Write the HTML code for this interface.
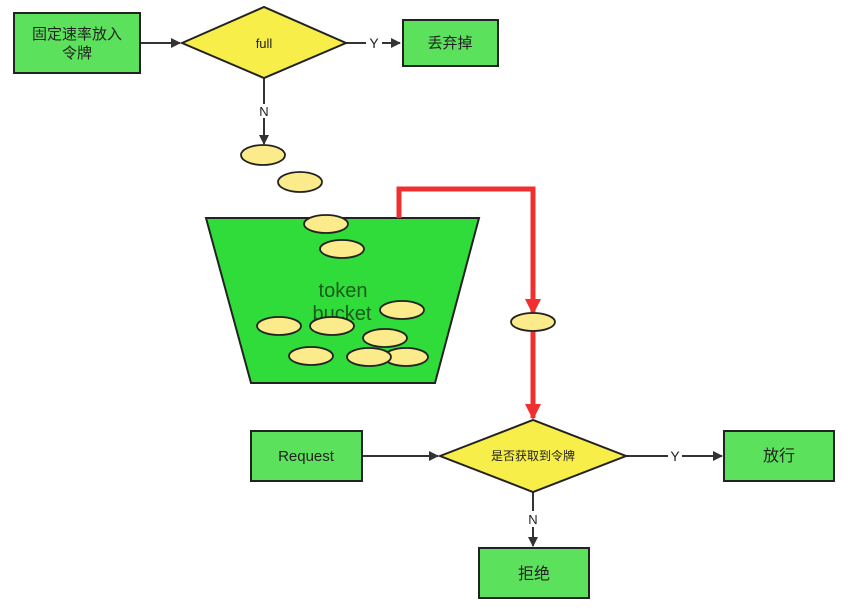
<!DOCTYPE html>
<html><head><meta charset="utf-8"><style>
html,body{margin:0;padding:0;background:#fff;}
svg{display:block;}
text{font-family:"Liberation Sans","Noto Sans CJK SC",sans-serif;}
</style></head><body>
<svg width="859" height="608" viewBox="0 0 859 608" xmlns="http://www.w3.org/2000/svg">
<defs>
<marker id="a" markerWidth="10" markerHeight="10" refX="9" refY="5" orient="auto" markerUnits="userSpaceOnUse"><path d="M0,0 L10,5 L0,10 z" fill="#333"/></marker>
<marker id="r" markerWidth="16" markerHeight="18" refX="14" refY="8" orient="auto" markerUnits="userSpaceOnUse"><path d="M0,0 L16,8 L0,16 z" fill="#f03030"/></marker>
</defs>
<g stroke="#333" stroke-width="2" fill="none">
<line x1="140" y1="43" x2="180" y2="43" marker-end="url(#a)"/>
<line x1="346" y1="43" x2="366" y2="43"/>
<line x1="382" y1="43" x2="400" y2="43" marker-end="url(#a)"/>
<line x1="264" y1="78" x2="264" y2="104"/>
<line x1="264" y1="118" x2="264" y2="144" marker-end="url(#a)"/>
<line x1="362" y1="456" x2="438" y2="456" marker-end="url(#a)"/>
<line x1="626" y1="456" x2="668" y2="456"/>
<line x1="682" y1="456" x2="722" y2="456" marker-end="url(#a)"/>
<line x1="533" y1="492" x2="533" y2="511"/>
<line x1="533" y1="527" x2="533" y2="546" marker-end="url(#a)"/>
</g>
<g stroke="#222" stroke-width="2" fill="#5ce15c">
<rect x="14" y="13" width="126" height="60"/>
<rect x="403" y="20" width="95" height="46"/>
<rect x="251" y="431" width="111" height="50"/>
<rect x="724" y="431" width="110" height="50"/>
<rect x="479" y="548" width="110" height="50"/>
</g>
<g stroke="#222" stroke-width="2" fill="#f7ee4a">
<polygon points="182,43 264,7 346,43 264,78"/>
<polygon points="440,456 533,420 626,456 533,492"/>
</g>
<polygon points="206,218 479,218 435,383 251,383" fill="#2fdc3a" stroke="#222" stroke-width="2"/>
<polyline points="399,218 399,189 533,189 533,313" fill="none" stroke="#f03030" stroke-width="5" marker-end="url(#r)"/>
<line x1="533" y1="331" x2="533" y2="418" stroke="#f03030" stroke-width="5" marker-end="url(#r)"/>
<text x="343" y="297" font-size="20" fill="#1d5a1d" text-anchor="middle">token</text>
<text x="342" y="320" font-size="20" fill="#1d5a1d" text-anchor="middle">bucket</text>
<g fill="#fbeb8a" stroke="#222" stroke-width="1.8">
<ellipse cx="263" cy="155" rx="22" ry="10"/>
<ellipse cx="300" cy="182" rx="22" ry="10"/>
<ellipse cx="326" cy="224" rx="22" ry="9"/>
<ellipse cx="342" cy="249" rx="22" ry="9"/>
<ellipse cx="402" cy="310" rx="22" ry="9"/>
<ellipse cx="279" cy="326" rx="22" ry="9"/>
<ellipse cx="332" cy="326" rx="22" ry="9"/>
<ellipse cx="385" cy="338" rx="22" ry="9"/>
<ellipse cx="311" cy="356" rx="22" ry="9"/>
<ellipse cx="406" cy="357" rx="22" ry="9"/>
<ellipse cx="369" cy="357" rx="22" ry="9"/>
<ellipse cx="533" cy="322" rx="22" ry="9"/>
</g>
<g fill="#222" text-anchor="middle">
<text x="77" y="39" font-size="15">固定速率放入</text>
<text x="77" y="58" font-size="15">令牌</text>
<text x="264" y="48" font-size="13">full</text>
<text x="450" y="48" font-size="15">丢弃掉</text>
<text x="374" y="48" font-size="14">Y</text>
<text x="264" y="116" font-size="13">N</text>
<text x="306" y="461" font-size="15">Request</text>
<text x="533" y="460" font-size="12">是否获取到令牌</text>
<text x="779" y="461" font-size="16">放行</text>
<text x="675" y="461" font-size="14">Y</text>
<text x="533" y="524" font-size="13">N</text>
<text x="534" y="579" font-size="16">拒绝</text>
</g>
</svg>
</body></html>
